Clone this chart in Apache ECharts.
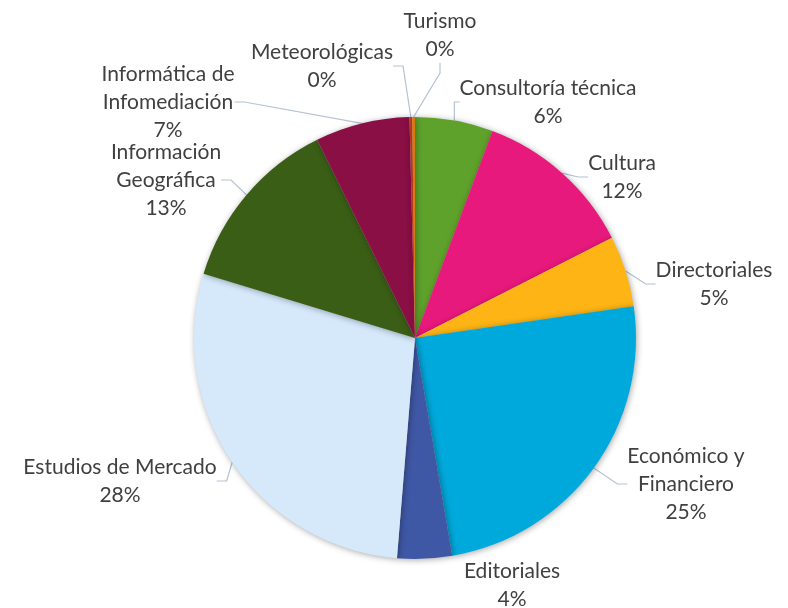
<!DOCTYPE html>
<html>
<head>
<meta charset="utf-8">
<script src="https://cdn.jsdelivr.net/npm/echarts@6/dist/echarts.min.js"></script>
<style>
  html, body { margin: 0; padding: 0; background: #fff; }
  #chart { width: 788px; height: 608px; }
</style>
</head>
<body>
<div id="chart"></div>
<script>
// categorías (con saltos de línea como en la etiqueta original)
const categories = [
  'Consultoría técnica',
  'Cultura',
  'Directoriales',
  'Económico y\nFinanciero',
  'Editoriales',
  'Estudios de Mercado',
  'Información\nGeográfica',
  'Informática de\nInfomediación',
  'Meteorológicas',
  'Turismo'
];
// porcentajes
const shares = [5.7, 11.8, 5.2, 24.6, 4.0, 28.4, 13.0, 6.9, 0.2, 0.2];

const colors = [
  '#5fa22b', '#e8197c', '#fdb414', '#00a9dc', '#3f58a5',
  '#d5e9fb', '#3a5e16', '#890f45', '#c0392b', '#d97a06'
];

// centro del bloque de texto de cada etiqueta
const labelSpots = [
  [548, 102], [622, 177], [714, 284], [686, 484], [512, 585],
  [120, 481], [166, 180], [168, 102], [322, 66], [440, 35]
];

const chart = echarts.init(document.getElementById('chart'));

chart.setOption({
  backgroundColor: '#fff',
  animation: false,
  color: colors,
  series: [{
    type: 'pie',
    center: [415, 338],
    radius: 221,
    startAngle: 90,
    clockwise: true,
    minAngle: 0,
    avoidLabelOverlap: false,
    itemStyle: {
      borderWidth: 0,
      shadowBlur: 6,
      shadowColor: 'rgba(0,0,0,0.35)',
      shadowOffsetX: 1,
      shadowOffsetY: 1
    },
    label: {
      show: true,
      position: 'outside',
      fontFamily: 'Lato',
      fontSize: 21,
      lineHeight: 28,
      color: '#404040',
      align: 'center',
      formatter: (p) => p.name + '\n' + Math.round(p.percent) + '%'
    },
    labelLine: {
      show: true,
      length: 12,
      length2: 10,
      lineStyle: { color: '#b4c2d4', width: 1.2 }
    },
    labelLayout: (params) => {
      const s = labelSpots[params.dataIndex];
      return { x: s[0], y: s[1], align: 'center', verticalAlign: 'middle' };
    },
    // Editoriales va pegada al sector, sin línea guía
    data: categories.map((name, i) => ({
      name,
      value: shares[i],
      labelLine: { show: name !== 'Editoriales' }
    }))
  }]
});
</script>
</body>
</html>
